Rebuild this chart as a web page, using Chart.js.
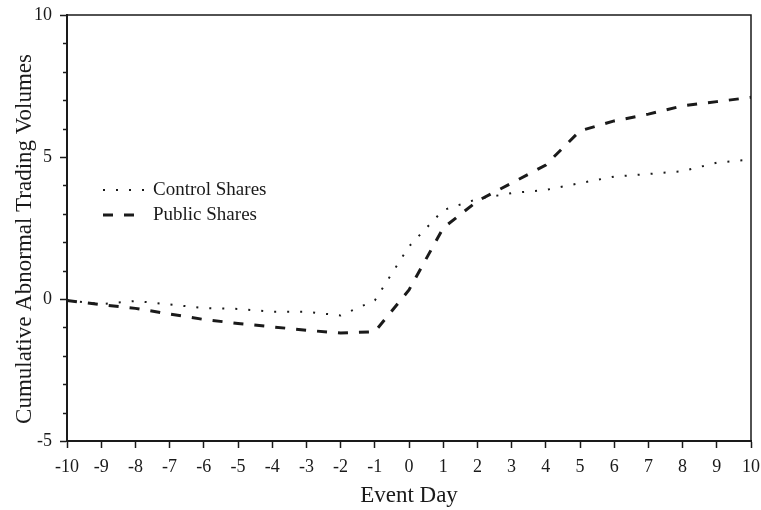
<!DOCTYPE html>
<html>
<head>
<meta charset="utf-8">
<script src="https://cdn.jsdelivr.net/npm/chart.js@4.4.1/dist/chart.umd.min.js"></script>
<style>
  html, body { margin: 0; padding: 0; background: #ffffff; }
  #wrap { width: 761px; height: 510px; }
</style>
</head>
<body>
<div id="wrap"><canvas id="chart" width="761" height="510"></canvas></div>
<script>
// Event window and cumulative abnormal trading volumes
const eventDays = [-10, -9, -8, -7, -6, -5, -4, -3, -2, -1, 0, 1, 2, 3, 4, 5, 6, 7, 8, 9, 10];
const controlShares = [-0.05, -0.18, -0.07, -0.19, -0.32, -0.35, -0.45, -0.45, -0.58, -0.05, 1.85, 3.13, 3.52, 3.73, 3.84, 4.08, 4.31, 4.4, 4.5, 4.8, 4.91];
const publicShares = [-0.05, -0.2, -0.33, -0.53, -0.72, -0.86, -0.98, -1.1, -1.2, -1.15, 0.32, 2.5, 3.45, 4.08, 4.72, 5.92, 6.27, 6.51, 6.8, 6.95, 7.1];
const yTickLabels = [-5, 0, 5, 10];
const yTitle = 'Cumulative Abnormal Trading Volumes';

const serif = "'Liberation Serif', 'Times New Roman', serif";
const ink = '#1a1a1a';

const toPoints = vals => eventDays.map((d, i) => ({ x: d, y: vals[i] }));

// frame, minor y ticks, y title and the inset legend
const decorPlugin = {
  id: 'decor',
  afterDraw(chart) {
    const ctx = chart.ctx;
    const area = chart.chartArea;
    const yScale = chart.scales.y;
    ctx.save();
    ctx.strokeStyle = ink;
    ctx.lineWidth = 1.5;
    ctx.beginPath();
    ctx.moveTo(area.left, area.top);
    ctx.lineTo(area.right, area.top);
    ctx.lineTo(area.right, area.bottom);
    ctx.stroke();

    // minor ticks on the left axis
    for (let v = yScale.min; v <= yScale.max; v++) {
      if (yTickLabels.includes(v)) continue;
      const py = Math.round(yScale.getPixelForValue(v)) + 0.5;
      ctx.beginPath();
      ctx.moveTo(area.left - 4, py);
      ctx.lineTo(area.left, py);
      ctx.stroke();
    }

    // y axis title, sits a little below the middle of the axis
    ctx.save();
    ctx.translate(31, 239);
    ctx.rotate(-Math.PI / 2);
    ctx.fillStyle = ink;
    ctx.font = '23px ' + serif;
    ctx.textAlign = 'center';
    ctx.textBaseline = 'alphabetic';
    ctx.fillText(yTitle, 0, 0);
    ctx.restore();

    // legend
    const rows = [190, 215];
    chart.data.datasets.forEach((ds, i) => {
      const y = rows[i];
      ctx.setLineDash(ds.borderDash);
      ctx.lineWidth = ds.borderWidth;
      ctx.strokeStyle = ds.borderColor;
      ctx.beginPath();
      ctx.moveTo(103, y);
      ctx.lineTo(i === 0 ? 145 : 136, y);
      ctx.stroke();
      ctx.setLineDash([]);
      ctx.fillStyle = ink;
      ctx.font = '19px ' + serif;
      ctx.textBaseline = 'middle';
      ctx.textAlign = 'left';
      ctx.fillText(ds.label, 153, y);
    });
    ctx.restore();
  }
};

new Chart(document.getElementById('chart'), {
  type: 'line',
  data: {
    datasets: [{
      label: 'Control Shares',
      data: toPoints(controlShares),
      borderColor: ink,
      borderWidth: 2,
      borderDash: [2, 11],
      pointRadius: 0,
      tension: 0,
      fill: false
    }, {
      label: 'Public Shares',
      data: toPoints(publicShares),
      borderColor: ink,
      borderWidth: 3,
      borderDash: [10, 11],
      pointRadius: 0,
      tension: 0,
      fill: false
    }]
  },
  options: {
    responsive: false,
    animation: false,
    layout: { padding: { top: 15, right: 10, left: 0, bottom: 0 } },
    plugins: {
      legend: { display: false },
      tooltip: { enabled: false }
    },
    scales: {
      x: {
        type: 'linear',
        min: -10,
        max: 10,
        afterFit: s => { s.height = 69; s.paddingLeft = 0; s.paddingRight = 0; },
        border: { color: ink, width: 2 },
        grid: { drawOnChartArea: false, tickLength: 7, color: ink, tickWidth: 1.5 },
        ticks: {
          stepSize: 1,
          padding: 8,
          color: ink,
          font: { family: serif, size: 18 },
          maxRotation: 0,
          autoSkip: false
        },
        title: {
          display: true,
          text: 'Event Day',
          color: ink,
          font: { family: serif, size: 23 },
          padding: 0
        }
      },
      y: {
        min: -5,
        max: 10,
        afterFit: s => { s.width = 67; s.paddingTop = 0; s.paddingBottom = 0; },
        border: { color: ink, width: 2 },
        grid: { drawOnChartArea: false, tickLength: 7, color: ink, tickWidth: 1.5 },
        ticks: {
          stepSize: 5,
          padding: 8,
          color: ink,
          font: { family: serif, size: 18 }
        }
      }
    }
  },
  plugins: [decorPlugin]
});
</script>
</body>
</html>
